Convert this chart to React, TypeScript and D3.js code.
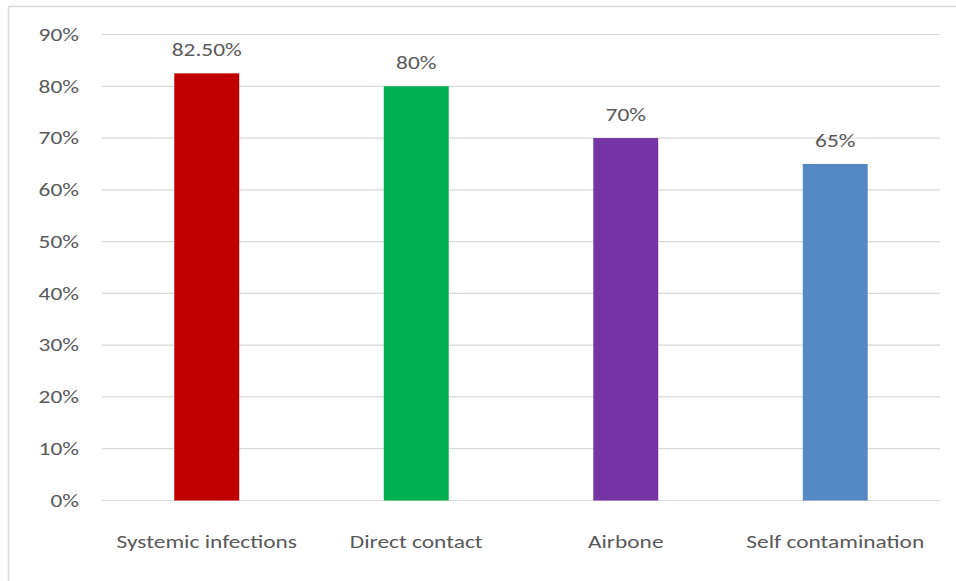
import React from "react";
import * as d3 from "d3";

const categories = ["Systemic infections", "Direct contact", "Airbone", "Self contamination"];
const values = [82.5, 80, 70, 65];
const valueLabels = ["82.50%", "80%", "70%", "65%"];
const colors = ["#C00000", "#00B050", "#7533A3", "#5589C4"];
const yTicks = [0, 10, 20, 30, 40, 50, 60, 70, 80, 90];

const SX = 1.3;

function T({ x, y, anchor, children, dy }: { x: number; y: number; anchor: string; children: React.ReactNode; dy?: string }) {
  return (
    <g transform={`translate(${x},${y}) scale(${SX},1)`}>
      <text x={0} y={0} dy={dy} textAnchor={anchor} fontSize={18} fill="#595959">
        {children}
      </text>
    </g>
  );
}

export default function App() {
  const W = 956, H = 581;
  const left = 102, right = 940, top = 34.5, bottom = 500.5;
  const x = d3.scaleBand<string>().domain(categories).range([left, right]).paddingInner(0.69).paddingOuter(0.345);
  const y = d3.scaleLinear().domain([0, 90]).range([bottom, top]);
  const font = "Carlito, Calibri, Lato, 'Open Sans', sans-serif";
  return (
    <svg width={W} height={H} style={{ position: "absolute", left: 0, top: 0, background: "#fff" }} fontFamily={font}>
      <rect x={0} y={0} width={W} height={H} fill="#fff" />
      <line x1={8.5} y1={6.5} x2={W} y2={6.5} stroke="#d9d9d9" strokeWidth={1.5} />
      <line x1={8.5} y1={6.5} x2={8.5} y2={H} stroke="#d9d9d9" strokeWidth={1.5} />
      {yTicks.map((t) => (
        <g key={t}>
          <line x1={left} x2={right} y1={y(t)} y2={y(t)} stroke="#d9d9d9" strokeWidth={1.2} />
          <T x={79} y={y(t)} anchor="end" dy="0.35em">
            {t}%
          </T>
        </g>
      ))}
      {categories.map((c, i) => {
        const bx = x(c)!;
        const bw = x.bandwidth();
        return (
          <g key={c}>
            <rect x={bx} y={y(values[i])} width={bw} height={bottom - y(values[i])} fill={colors[i]} />
            <T x={bx + bw / 2} y={y(values[i]) - 17} anchor="middle">
              {valueLabels[i]}
            </T>
            <T x={bx + bw / 2} y={548} anchor="middle">
              {c}
            </T>
          </g>
        );
      })}
    </svg>
  );
}
